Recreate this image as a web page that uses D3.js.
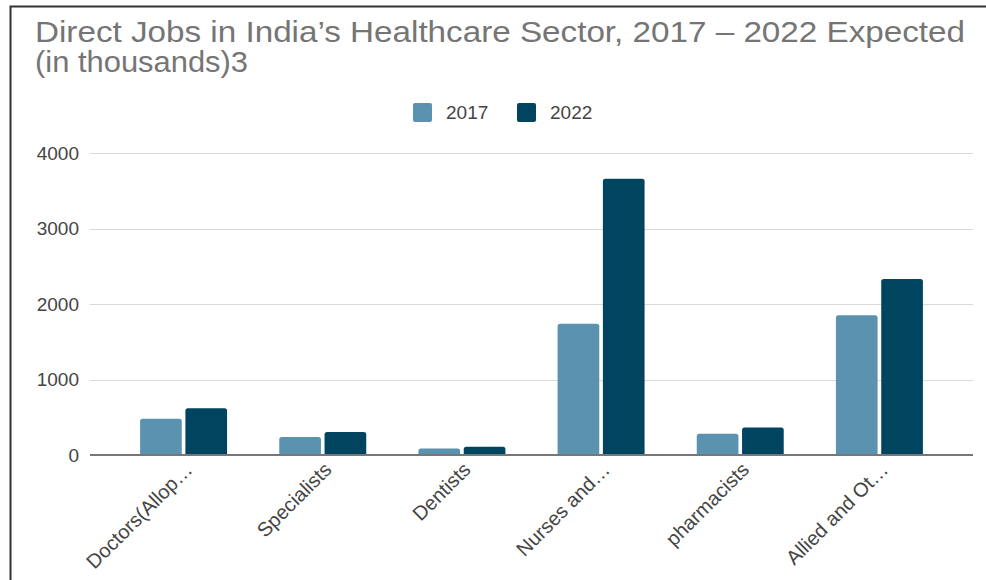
<!DOCTYPE html>
<html>
<head>
<meta charset="utf-8">
<script src="https://cdn.jsdelivr.net/npm/d3@7"></script>
<style>
  body { margin: 0; background: #fff; }
  svg { display: block; font-family: "Liberation Sans", Arial, sans-serif; }
</style>
</head>
<body>
<div id="chart"></div>
<script>
// data
var categories = ["Doctors(Allop…", "Specialists", "Dentists", "Nurses and…", "pharmacists", "Allied and Ot…"];
var series = ["2017", "2022"];
var values2017 = [480, 240, 85, 1740, 280, 1850];
var values2022 = [620, 305, 110, 3660, 365, 2330];
var yTicks = [0, 1000, 2000, 3000, 4000];
var colors = ["#5a92b0", "#01445f"];

var width = 986, height = 580;

var svg = d3.select("#chart")
  .append("svg")
  .attr("width", width)
  .attr("height", height);

// frame (only top and left edges visible)
svg.append("path")
  .attr("d", "M10.5,580 L10.5,6.5 L986,6.5")
  .attr("fill", "none")
  .attr("stroke", "#333")
  .attr("stroke-width", 2);

// title
var title = svg.append("text")
  .attr("fill", "#757575")
  .attr("font-size", 30);
title.append("tspan").attr("x", 35).attr("y", 42)
  .attr("textLength", 930).attr("lengthAdjust", "spacingAndGlyphs")
  .text("Direct Jobs in India’s Healthcare Sector, 2017 – 2022 Expected");
title.append("tspan").attr("x", 35).attr("y", 72)
  .attr("textLength", 213).attr("lengthAdjust", "spacingAndGlyphs")
  .text("(in thousands)3");

// scales
var x0 = d3.scaleBand()
  .domain(categories)
  .range([90, 973])
  .paddingInner(0.375)
  .paddingOuter(0.36);

var x1 = d3.scaleBand()
  .domain(series)
  .range([0, x0.bandwidth()])
  .paddingInner(0.08);

var y = d3.scaleLinear()
  .domain([0, 4000])
  .range([455, 153]);

// gridlines
svg.append("g")
  .selectAll("line")
  .data(yTicks.slice(1))
  .enter()
  .append("line")
  .attr("x1", 90)
  .attr("x2", 973)
  .attr("y1", function(d) { return Math.round(y(d)) + 0.5; })
  .attr("y2", function(d) { return Math.round(y(d)) + 0.5; })
  .attr("stroke", "#d9d9d9")
  .attr("stroke-width", 1.2);

// y axis labels
var yAxis = d3.axisLeft(y).tickValues(yTicks).tickSize(0).tickPadding(0).tickFormat(d3.format("d"));
var gy = svg.append("g")
  .attr("transform", "translate(79,0)")
  .call(yAxis);
gy.select(".domain").remove();
gy.selectAll("text")
  .attr("fill", "#444")
  .attr("font-size", 19)
  .attr("font-family", "Liberation Sans, Arial, sans-serif");

// bars
var rows = categories.map(function(c, i) {
  return { cat: c, vals: [values2017[i], values2022[i]] };
});

var groups = svg.append("g")
  .selectAll("g")
  .data(rows)
  .enter()
  .append("g")
  .attr("transform", function(d) { return "translate(" + x0(d.cat) + ",0)"; });

groups.selectAll("path")
  .data(function(d) {
    return d.vals.map(function(v, j) { return { s: series[j], v: v, j: j }; });
  })
  .enter()
  .append("path")
  .attr("fill", function(d) { return colors[d.j]; })
  .attr("d", function(d) {
    var bx = x1(d.s), bw = x1.bandwidth();
    var top = y(d.v), bottom = y(0), r = 2.5;
    return "M" + bx + "," + bottom +
      "L" + bx + "," + (top + r) +
      "Q" + bx + "," + top + " " + (bx + r) + "," + top +
      "L" + (bx + bw - r) + "," + top +
      "Q" + (bx + bw) + "," + top + " " + (bx + bw) + "," + (top + r) +
      "L" + (bx + bw) + "," + bottom + "Z";
  });

// baseline
svg.append("line")
  .attr("x1", 90)
  .attr("x2", 973)
  .attr("y1", y(0))
  .attr("y2", y(0))
  .attr("stroke", "#777")
  .attr("stroke-width", 2);

// x labels, rotated
svg.append("g")
  .selectAll("text")
  .data(categories)
  .enter()
  .append("text")
  .attr("transform", function(d) {
    var cx = x0(d) + x0.bandwidth() / 2 + 10;
    return "translate(" + cx + ",471) rotate(-45)";
  })
  .attr("text-anchor", "end")
  .attr("fill", "#444")
  .attr("font-size", 20)
  .text(function(d) { return d; });

// legend
var legend = svg.append("g")
  .selectAll("g")
  .data(series)
  .enter()
  .append("g")
  .attr("transform", function(d, i) { return "translate(" + [413, 517][i] + ",103)"; });

legend.append("rect")
  .attr("width", 19)
  .attr("height", 19)
  .attr("rx", 2)
  .attr("fill", function(d, i) { return colors[i]; });

legend.append("text")
  .attr("x", 33)
  .attr("y", 16)
  .attr("fill", "#444")
  .attr("font-size", 19)
  .text(function(d) { return d; });
</script>
</body>
</html>
